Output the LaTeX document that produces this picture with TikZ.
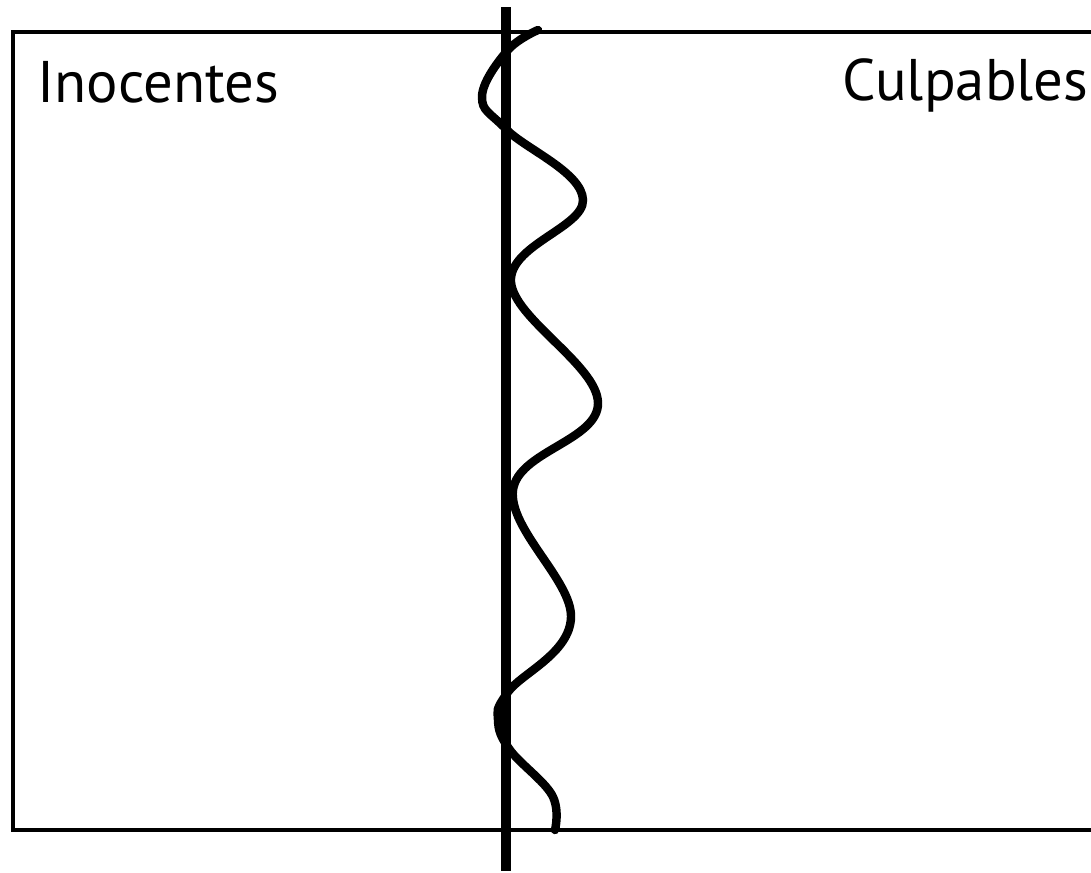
\documentclass[tikz,border=0pt]{standalone}
\usepackage{fontspec}
\setmainfont{PT Sans}
\usepackage{tikz}

\begin{document}
\begin{tikzpicture}[x=0.01cm, y=-0.01cm, every node/.style={inner sep=0pt, anchor=base west, font=\fontsize{16.7}{20}\selectfont}, frame/.style={draw=black, line width=1.1pt}, divide/.style={draw=black, line width=2.6pt}, wave/.style={draw=black, line width=2.4pt, line cap=round}]
			\useasboundingbox (0,0) rectangle (1091,872);
			
			\draw[frame] (1091,32) -- (13,32) -- (13,830) -- (1091,830);
			
			\node (inoc) at (37,102){Inocentes};
			\node (culp) at (842,100){Culpables};
			
			\coordinate (top) at (506,7);
			\coordinate (bot) at (506,871);
			\path[divide] (top) -- (bot);
			
			\draw[wave] plot[smooth, tension=0.65] coordinates {(538,30) (507,51) (482,97) (507,130) (583,200) (511,282) (598,403) (513,490) (571,617) (508,692) (498,720) (510,750) (552,795) (555,830)};
			\end{tikzpicture}
\end{document}
